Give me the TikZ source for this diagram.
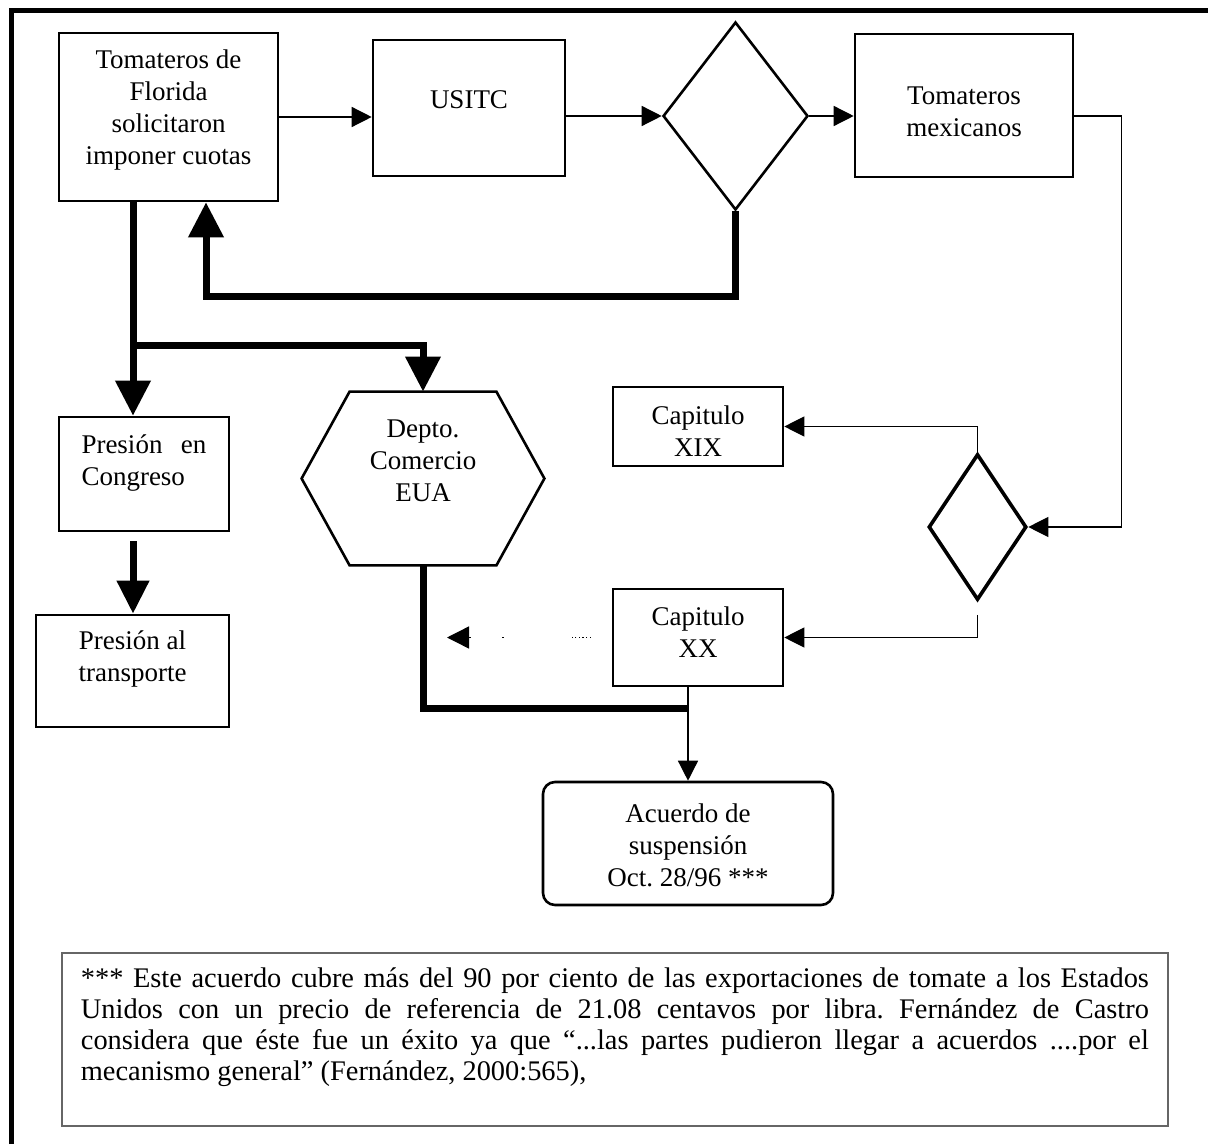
\documentclass[tikz,border=0pt]{standalone}
\usepackage{fontspec}
\setmainfont{Liberation Serif}
\usetikzlibrary{arrows.meta,shapes.geometric,calc}
\begin{document}
\frenchspacing
\begin{tikzpicture}[x=0.5pt,y=-0.5pt,
  every node/.style={font=\fontsize{13.5}{16}\selectfont},
  box/.style={draw, line width=1.3pt, rectangle, inner sep=0pt},
  lbl/.style={align=center, inner sep=0pt},
  thinarrow/.style={line width=0.7pt, -{Triangle[length=10pt,width=10pt]}},
  thinline/.style={line width=0.6pt},
  heavy/.style={line width=3.5pt, line join=miter},
  heavyarrow/.style={heavy, -{Triangle[length=17.5pt,width=17pt]}},
]
\useasboundingbox (0,0) rectangle (1208,1144);

% outer frame (top and left edges)
\draw[line width=2.5pt, line join=miter] (11.5,1144) -- (11.5,11) -- (1208,11);

% top row
\node[box, minimum width=109.5pt, minimum height=84pt,
  label={[lbl,yshift=3.5pt]center:Tomateros de\\Florida\\solicitaron\\imponer cuotas}] (flo) at (168.5,117) {};
\node[box, minimum width=96pt, minimum height=68pt,
  label={[lbl,yshift=4pt]center:USITC}] (usitc) at (469,108) {};
\node[draw, diamond, line width=1.3pt, minimum width=72.5pt, minimum height=94pt, inner sep=0pt] (dec1) at (735.5,116) {};
\node[box, minimum width=109pt, minimum height=71.5pt,
  label={[lbl,yshift=-3pt]center:Tomateros\\mexicanos}] (mex) at (964,105.5) {};

% left column
\node[box, minimum width=85pt, minimum height=57pt,
  label={[lbl,yshift=5.5pt]center:\makebox[62.5pt][s]{Presión en}\\\makebox[62.5pt][l]{Congreso}}] (cong) at (144,474) {};
\node[box, minimum width=96.5pt, minimum height=56pt,
  label={[lbl,yshift=6pt]center:Presión al\\transporte}] (trans) at (132.5,671) {};

% hexagon
\node[minimum width=73pt, minimum height=86.5pt, inner sep=0pt,
  label={[lbl,yshift=9pt]center:Depto.\\Comercio\\EUA}] (hex) at (423,478.5) {};
\draw[line width=1.3pt, line join=miter] (hex.north west) -- (hex.north east) -- ([xshift=24pt]hex.east)
  -- (hex.south east) -- (hex.south west) -- ([xshift=-24pt]hex.west) -- cycle;

% right side
\node[box, minimum width=85pt, minimum height=39.5pt,
  label={[lbl,yshift=-2.5pt]center:Capitulo\\XIX}] (c19) at (698,426.5) {};
\node[draw, diamond, line width=1.8pt, minimum width=49pt, minimum height=73pt, inner sep=0pt] (dec2) at (977.5,527) {};
\node[box, minimum width=85pt, minimum height=48.5pt,
  label={[lbl,yshift=2.5pt]center:Capitulo\\XX}] (c20) at (698,637.5) {};

% agreement
\node[box, rounded corners=6pt, minimum width=145pt, minimum height=61.5pt,
  label={[lbl,yshift=-1pt]center:Acuerdo de\\suspensión\\Oct. 28/96 ***}] (acu) at (688,843.5) {};

% thin connectors
\draw[thinarrow] (flo.east) -- (flo.east -| usitc.west);
\draw[thinarrow] (usitc.east |- dec1.west) -- (dec1.west);
\draw[thinarrow] (dec1.east) -- (dec1.east -| mex.west);
\coordinate (rt) at (1121.5,527);
\draw[thinline, -{Triangle[length=10pt,width=10pt]}] (mex.east |- dec1.east) -| (rt) -- (dec2.east);
\draw[thinline, -{Triangle[length=10pt,width=10pt]}] (dec2.north) |- (c19.east);
\draw[thinline, -{Triangle[length=10pt,width=10pt]}, shorten <=6.5pt] (dec2.south) |- (c20.east);
\draw[thinarrow] (acu.north |- c20.south) -- (acu.north);
\coordinate (dtip) at (447,637.5);
\draw[line width=0.7pt,
  dash pattern=on 0pt off 10.5pt on 0.6pt off 1.2pt on 0.6pt off 1.2pt on 0.6pt off 1.2pt on 0.6pt off 1.2pt on 0.6pt off 1.2pt on 0.6pt off 34pt on 0.8pt off 15.5pt on 0.8pt off 100pt,
  -{Triangle[length=11pt,width=11pt]}] (c20.west) -- (dtip);

% heavy connectors
\coordinate (split) at (133,345);
\draw[heavyarrow] (split |- flo.south) -- (split |- cong.north);
\draw[heavyarrow] (split) -| (hex.north);
\draw[heavy, -{Triangle[length=16.5pt,width=15.5pt]}, shorten <=4.5pt] (split |- cong.south) -- (split |- trans.north);
\coordinate (fb) at (206,297);
\draw[heavyarrow] (dec1.south) |- (fb) -- (fb |- flo.south);
\coordinate (join) at (688,708);
\draw[heavy] (hex.south) |- (join);

% footnote
\node[anchor=north west, text width=534pt, inner xsep=9.25pt, inner ysep=7pt,
  align=justify, font=\fontsize{14.2}{15.5}\selectfont] (note) at (62,953)
  {*** Este acuerdo cubre más del 90 por ciento de las exportaciones de tomate a los Estados\linebreak
   Unidos con un precio de referencia de 21.08 centavos por libra. Fernández de Castro\linebreak
   considera que éste fue un éxito ya que “...las partes pudieron llegar a acuerdos ....por el\linebreak
   mecanismo general” (Fernández, 2000:565),};
\draw[draw=black!60, line width=0.8pt] (note.north west) rectangle ([yshift=-86.5pt]note.north east);
\end{tikzpicture}
\end{document}
